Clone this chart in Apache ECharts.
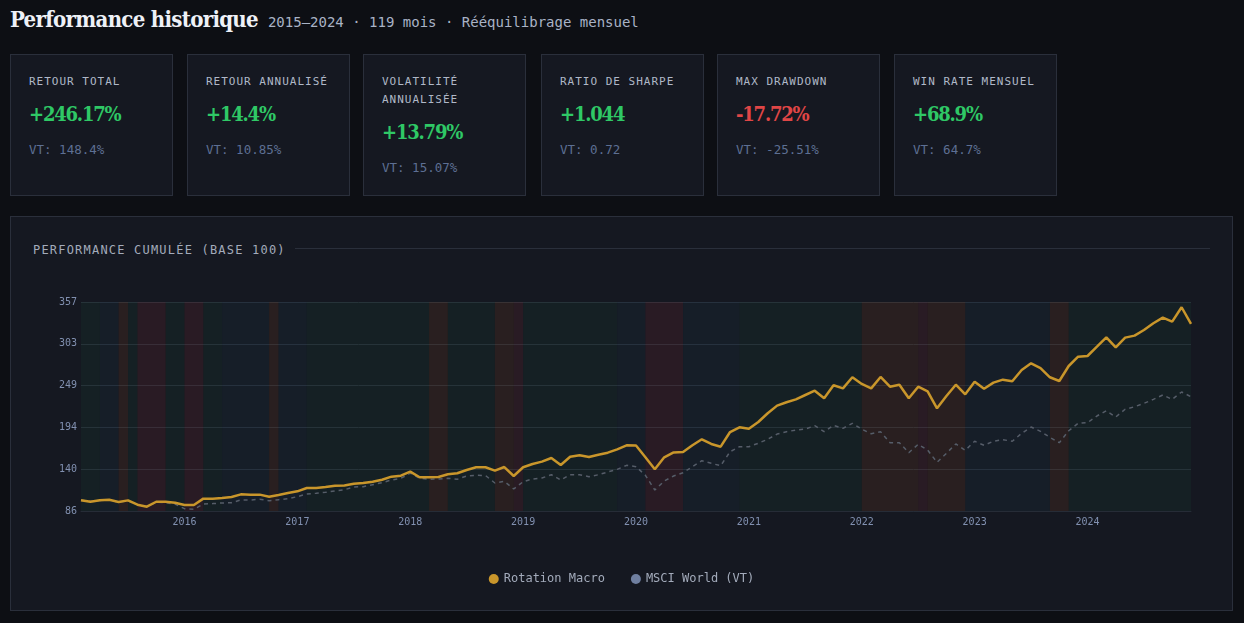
<!DOCTYPE html>
<html>
<head>
<meta charset="utf-8">
<script src="https://cdn.jsdelivr.net/npm/echarts@6/dist/echarts.min.js"></script>
<style>
  html, body { margin:0; padding:0; background:#0d0f14; width:1244px; height:623px; overflow:hidden; }
  body { position:relative; font-family:"DejaVu Sans Mono", monospace; }
  .title { position:absolute; left:10px; top:6px; white-space:nowrap; }
  .title h1 { display:inline; margin:0; font-family:"DejaVu Serif", serif; font-stretch:condensed; font-weight:bold; font-size:22px; letter-spacing:-0.7px; color:#eef1f7; }
  .title span { font-size:14px; color:#a9b3c6; margin-left:10px; }
  .card { position:absolute; top:54px; width:163px; height:142px; box-sizing:border-box; border:1px solid #2a2f3b; background:#151821; padding:18px 18px 0 18px; }
  .card .lab { font-size:11px; letter-spacing:1px; color:#b0b8c8; line-height:18px; }
  .card .val { font-family:"DejaVu Serif", serif; font-stretch:condensed; font-weight:bold; font-size:20px; letter-spacing:-1.2px; line-height:28px; margin-top:9px; }
  .card .sub { font-size:12.5px; color:#5d6f93; line-height:18px; margin-top:13px; }
  .pos { color:#2fc866; } .neg { color:#e04646; }
  .panel { position:absolute; left:10px; top:216px; width:1223px; height:395px; box-sizing:border-box; border:1px solid #2a2f3b; background:#151821; }
  .ptitle { position:absolute; left:22px; top:24px; font-size:12px; letter-spacing:1.2px; color:#a3abbb; line-height:18px; white-space:nowrap; }
  .pline { position:absolute; left:284px; right:22px; top:31px; height:1px; background:#2a2f3b; }
  #chart { position:absolute; left:0; top:43px; width:1221px; height:350px; }
</style>
</head>
<body>
<div class="title"><h1>Performance historique</h1><span>2015–2024 · 119 mois · Rééquilibrage mensuel</span></div>
<div id="cards"></div>
<div class="panel">
  <div class="ptitle">PERFORMANCE CUMULÉE (BASE 100)</div>
  <div class="pline"></div>
  <div id="chart"></div>
</div>
<script>
// ---- Stat cards ----
const cardLabels = ["RETOUR TOTAL", "RETOUR ANNUALISÉ", "VOLATILITÉ ANNUALISÉE", "RATIO DE SHARPE", "MAX DRAWDOWN", "WIN RATE MENSUEL"];
const cardValues = ["+246.17%", "+14.4%", "+13.79%", "+1.044", "-17.72%", "+68.9%"];
const cardBench  = ["VT: 148.4%", "VT: 10.85%", "VT: 15.07%", "VT: 0.72", "VT: -25.51%", "VT: 64.7%"];
const cardLefts = [10, 187, 363, 541, 717, 894];

// ---- Chart data ----
const startYear = 2015, startMonth = 2, nMonths = 119;
const months = [];
for (let i = 0; i < nMonths; i++) {
  const m = startMonth - 1 + i;
  const y = startYear + Math.floor(m / 12);
  const mm = (m % 12) + 1;
  months.push(y + "-" + (mm < 10 ? "0" + mm : mm));
}
const rotationMacro = [
  100, 98, 99.8, 100.6, 97.7, 99.8, 94.2, 91.6, 98, 98, 96.8, 93.8, 93.8, 102, 102, 102.9, 104.2, 107.6, 107.2, 107.2,
  104.6, 106.8, 109.3, 111.5, 115.8, 115.8, 117.1, 118.8, 119.2, 121.4, 122.3, 124, 126.6, 130.5, 131.8, 137, 129.7, 129.7, 130, 133.6,
  134.9, 139.2, 142.7, 142.7, 138.3, 143, 131.4, 142.7, 147, 150, 154.7, 145.6, 156.4, 158.2, 156, 159, 161.6, 166, 171.2, 171,
  155.6, 140, 155.6, 162, 162.4, 171.2, 179, 172.9, 169.4, 188.4, 194.5, 192.7, 201.4, 212.7, 222.6, 227, 230.8, 236.4, 242, 232.1,
  249, 245, 259.4, 250.7, 245, 259.8, 247.2, 249.8, 232.1, 247.2, 241.2, 219.2, 235.1, 249.8, 237.3, 253.7, 244.6, 252.4, 256.3, 254.2,
  268.8, 277.5, 271.4, 259.4, 254.6, 274, 286.1, 287, 299, 311.2, 298.3, 310.8, 313.4, 320.7, 329.4, 336.7, 331.5, 350.2, 328.5
];
const msciWorld = [
  100, 98.5, 99.5, 100.3, 97.5, 99.3, 94.3, 91.8, 97.5, 96.8, 95, 89, 88.2, 95, 95.6, 96.4, 96.8, 100.3, 100.3, 101.2,
  99.4, 100.7, 102, 104.6, 108, 109, 110.2, 112, 113.6, 117.1, 117.5, 120.1, 122.7, 126.2, 128.4, 135, 128.4, 127.1, 127.5, 128.4,
  127.1, 131.4, 132.3, 132, 122.3, 124.5, 114.5, 124, 127.5, 128.8, 133, 126.2, 133, 133, 130.5, 133, 136.6, 140, 145.2, 143.5,
  132.3, 113.2, 124.9, 131.4, 135.7, 143.5, 151.2, 147.8, 144.7, 162.9, 169.4, 169.4, 173.8, 179, 185.8, 188.8, 191, 192.3, 196.6, 188.8,
  197.1, 193.2, 199.7, 192, 186.2, 188.8, 174.6, 174.6, 161.6, 172.5, 165.1, 149.1, 160.8, 172.9, 164.7, 176.4, 171.2, 176.4, 178.5, 176.4,
  186.7, 194.9, 189.3, 181.5, 174.6, 190.1, 199.7, 200.5, 209.2, 216, 207.9, 217.9, 221.2, 225.6, 230.8, 236.4, 230.8, 240.3, 234.2
];
const yTicks = [86, 140, 194, 249, 303, 357];
// regime bands: [start index, end index, regime]
const regimeBands = [
  [0,2,"exp"],[2,4,"rep"],[4,5,"ral"],[5,6,"exp"],[6,9,"rec"],[9,11,"exp"],[11,13,"rec"],[13,15,"exp"],
  [15,20,"rep"],[20,21,"ral"],[21,24,"rep"],[24,37,"exp"],[37,39,"ral"],[39,44,"exp"],[44,46,"ral"],[46,47,"rec"],
  [47,57,"exp"],[57,60,"rep"],[60,64,"rec"],[64,70,"rep"],[70,83,"exp"],[83,89,"ral"],[89,90,"rec"],[90,94,"ral"],
  [94,103,"rep"],[103,105,"ral"],[105,118,"exp"]
];
const regimeColors = {
  exp: "rgba(34,197,94,0.05)",
  rep: "rgba(56,189,248,0.035)",
  ral: "rgba(249,115,22,0.09)",
  rec: "rgba(239,68,68,0.09)"
};

// build cards
const cardsDiv = document.getElementById("cards");
cardLabels.forEach((lab, i) => {
  const d = document.createElement("div");
  d.className = "card";
  d.style.left = cardLefts[i] + "px";
  const cls = cardValues[i].charAt(0) === "-" ? "neg" : "pos";
  d.innerHTML = '<div class="lab">' + lab + '</div><div class="val ' + cls + '">' + cardValues[i] + '</div><div class="sub">' + cardBench[i] + '</div>';
  cardsDiv.appendChild(d);
});

const chart = echarts.init(document.getElementById("chart"), null, { renderer: "canvas" });
const mono = "DejaVu Sans Mono";
const yMin = yTicks[0], yMax = yTicks[yTicks.length - 1];
chart.setOption({
  backgroundColor: "transparent",
  animation: false,
  grid: { left: 70, right: 41, top: 42, bottom: 99 },
  legend: {
    bottom: 20, left: "center",
    icon: "circle", itemWidth: 10, itemHeight: 10, itemGap: 26,
    textStyle: { color: "#a3abbb", fontFamily: mono, fontSize: 12 },
    data: ["Rotation Macro", "MSCI World (VT)"]
  },
  xAxis: {
    type: "category", data: months, boundaryGap: false,
    axisLine: { show: true, lineStyle: { color: "#262c37" } },
    axisTick: { show: false },
    splitLine: { show: false },
    axisLabel: {
      color: "#8190b0", fontFamily: mono, fontSize: 10, margin: 6,
      interval: (idx, val) => val.slice(5) === "01",
      formatter: (val) => val.slice(0, 4)
    }
  },
  yAxis: [
    { type: "value", min: yMin, max: yMax, show: false, splitLine: { show: false } },
    {
      type: "value", min: 0, max: yTicks.length - 1, interval: 1, position: "left",
      axisLine: { show: false }, axisTick: { show: false },
      axisLabel: { color: "#8190b0", fontFamily: mono, fontSize: 10, margin: 4, formatter: (v) => yTicks[v] },
      splitLine: { show: true, lineStyle: { color: "#262c37", width: 1 } }
    }
  ],
  series: [
    {
      name: "Rotation Macro", type: "line", data: rotationMacro, yAxisIndex: 0,
      symbol: "none", z: 4,
      itemStyle: { color: "#c9962b" },
      lineStyle: { color: "#c9962b", width: 2.5 },
      markArea: {
        silent: true,
        data: regimeBands.map(b => [
          { xAxis: months[b[0]], itemStyle: { color: regimeColors[b[2]] } },
          { xAxis: months[b[1]] }
        ])
      }
    },
    {
      name: "MSCI World (VT)", type: "line", data: msciWorld, yAxisIndex: 0,
      symbol: "none", z: 3,
      itemStyle: { color: "#6f7fa0" },
      lineStyle: { color: "#565d69", width: 1.5, type: [4, 4] }
    }
  ]
});
</script>
</body>
</html>
